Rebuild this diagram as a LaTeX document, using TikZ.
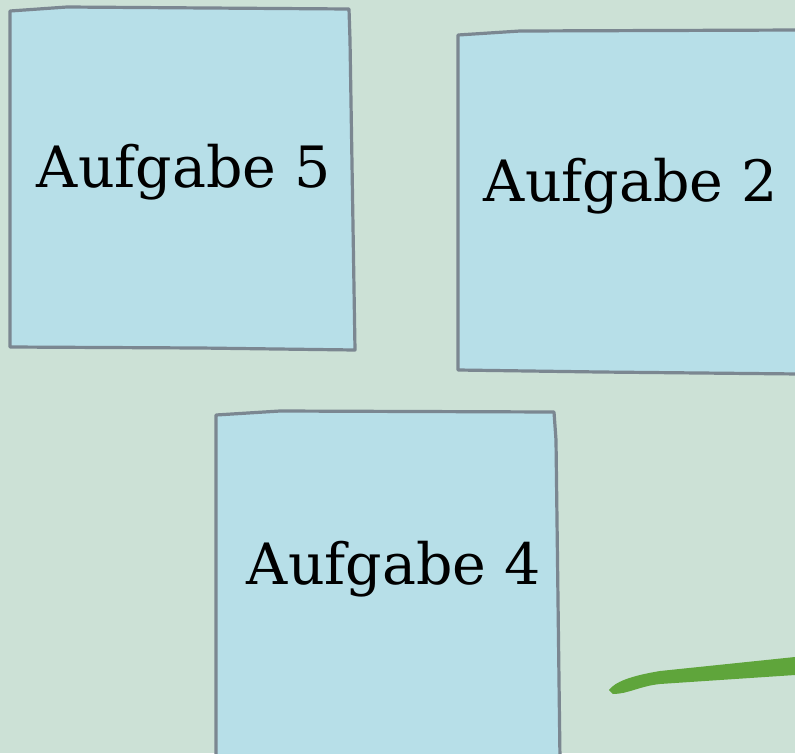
\documentclass[tikz,border=0pt]{standalone}
\definecolor{boardgreen}{RGB}{204, 225, 214}
\definecolor{cardblue}{RGB}{183, 223, 232}
\definecolor{cardedge}{RGB}{123, 135, 145}
\definecolor{markergreen}{RGB}{95, 165, 59}
\usepackage{fontspec}
\setmainfont{DejaVu Serif}
\usepackage{tikz}
\usetikzlibrary{positioning, calc}

\tikzset{
  card/.style={draw=cardedge, fill=cardblue, line width=3.2pt, line join=round},
  cardlabel/.style={anchor=base, font=\fontsize{57}{62}\selectfont, inner sep=0pt}
}

\begin{document}
\begin{tikzpicture}[x=1pt, y=-1pt]
  \useasboundingbox (0,0) rectangle (795,753);
  \fill[boardgreen] (0,0) rectangle (795,753);

  % hand-drawn cards
  \draw[card] (10,11) -- (67,7) -- (349,9) -- (350,40) -- (355,350) -- (200,348) -- (10,347) -- cycle;
  \draw[card] (458,35) -- (520,31) -- (800,30) -- (800,374) -- (600,372) -- (458,370) -- cycle;
  \draw[card] (216,415) -- (280,411) -- (554,412) -- (556,440) -- (560,760) -- (216,760) -- cycle;

  \node[cardlabel] (task5) at (184,187) {Aufgabe 5};
  \node[cardlabel] (task2) at (631,201) {Aufgabe 2};
  \node[cardlabel] (task4) at (394,584) {Aufgabe 4};

  % marker stroke
  \fill[markergreen] (609,690) .. controls (615,682) and (630,676) .. (660,671)
    -- (795,657) -- (795,675) -- (660,684) .. controls (640,686) and (628,694) .. (613,694) -- cycle;
\end{tikzpicture}
\end{document}
